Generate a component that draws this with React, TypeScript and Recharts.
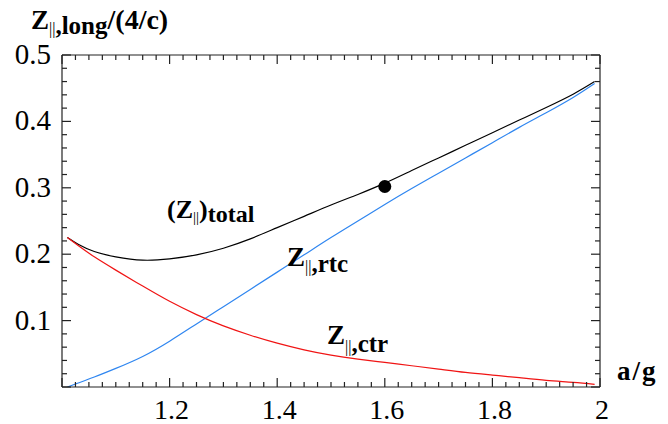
import React from 'react'
import { ComposedChart, Line, Scatter, XAxis, YAxis } from 'recharts'

// a/g
const aOverG = [1.01, 1.03, 1.06, 1.1, 1.15, 1.2, 1.25, 1.3, 1.35, 1.4, 1.45, 1.5, 1.55, 1.6, 1.65, 1.7, 1.75, 1.8, 1.85, 1.9, 1.95, 1.99]
// (Z||)total
const zTotal = [0.225, 0.215, 0.204, 0.196, 0.191, 0.193, 0.199, 0.209, 0.223, 0.24, 0.257, 0.274, 0.29, 0.307, 0.326, 0.345, 0.364, 0.383, 0.402, 0.421, 0.441, 0.46]
// Z||,rtc
const zRtc = [0, 0.006, 0.015, 0.028, 0.046, 0.069, 0.095, 0.121, 0.147, 0.173, 0.199, 0.225, 0.25, 0.275, 0.299, 0.322, 0.345, 0.368, 0.391, 0.413, 0.436, 0.457]
// Z||,ctr
const zCtr = [0.225, 0.213, 0.196, 0.176, 0.152, 0.129, 0.109, 0.092, 0.078, 0.066, 0.056, 0.048, 0.042, 0.037, 0.032, 0.027, 0.022, 0.018, 0.014, 0.01, 0.007, 0.004]

const markedPoint = [{ x: 1.6, y: 0.302 }]

const xMajor = [1.2, 1.4, 1.6, 1.8, 2]
const xLabels = ['1.2', '1.4', '1.6', '1.8', '2']
const yMajor = [0.1, 0.2, 0.3, 0.4, 0.5]
const yLabels = ['0.1', '0.2', '0.3', '0.4', '0.5']

const rows = aOverG.map((x, i) => ({ x, total: zTotal[i], rtc: zRtc[i], ctr: zCtr[i] }))

// minor ticks every 0.025 on x, 0.02 on y
const xTicks = Array.from({ length: 41 }, (_, i) => +(1 + i * 0.025).toFixed(3))
const yTicks = Array.from({ length: 26 }, (_, i) => +(i * 0.02).toFixed(2))

const FONT = "'Liberation Serif', serif"
const FRAME = '#222'

const near = (a: number, b: number) => Math.abs(a - b) < 1e-6
const isMajorX = (v: number) => near(v, 1) || xMajor.some((m) => near(m, v))
const isMajorY = (v: number) => Math.abs(v * 10 - Math.round(v * 10)) < 1e-6

const labelFor = (v: number, majors: number[], labels: string[]) => {
  const i = majors.findIndex((m) => near(m, v))
  return i >= 0 ? labels[i] : ''
}

const BottomTick = (props: any) => {
  const { x, y, payload } = props
  const v = payload.value
  const label = labelFor(v, xMajor, xLabels)
  return (
    <g>
      <line x1={x} x2={x} y1={y} y2={y - (isMajorX(v) ? 9 : 5)} stroke={FRAME} strokeWidth={1.2} />
      {label && (
        <text x={x + 2} y={y + 32} textAnchor="middle" fontSize={28} fontFamily="Liberation Serif">
          {label}
        </text>
      )}
    </g>
  )
}

const TopTick = (props: any) => {
  const { x, y, payload } = props
  return <line x1={x} x2={x} y1={y} y2={y + (isMajorX(payload.value) ? 9 : 5)} stroke={FRAME} strokeWidth={1.2} />
}

const LeftTick = (props: any) => {
  const { x, y, payload } = props
  const v = payload.value
  const label = labelFor(v, yMajor, yLabels)
  return (
    <g>
      <line x1={x} x2={x + (isMajorY(v) ? 9 : 5)} y1={y} y2={y} stroke={FRAME} strokeWidth={1.2} />
      {label && (
        <text x={x - 11} y={y + 9} textAnchor="end" fontSize={29} fontFamily="Liberation Serif">
          {label}
        </text>
      )}
    </g>
  )
}

const RightTick = (props: any) => {
  const { x, y, payload } = props
  return <line x1={x} x2={x - (isMajorY(payload.value) ? 9 : 5)} y1={y} y2={y} stroke={FRAME} strokeWidth={1.2} />
}

const bars = { fontSize: 16, fontWeight: 400 as const }

export default function App() {
  return (
    <div style={{ position: 'absolute', left: 0, top: 0, width: 668, height: 424, background: '#fff', fontFamily: FONT }}>
      <ComposedChart width={668} height={424} data={rows} margin={{ top: 54, right: 67, bottom: 0, left: 0 }}>
        <XAxis
          dataKey="x"
          type="number"
          domain={[1, 2]}
          ticks={xTicks}
          interval={0}
          allowDataOverflow
          height={37}
          tickSize={0}
          tickMargin={0}
          tickLine={false}
          axisLine={{ stroke: FRAME, strokeWidth: 1.2 }}
          tick={<BottomTick />}
        />
        <XAxis
          xAxisId="top"
          orientation="top"
          dataKey="x"
          type="number"
          domain={[1, 2]}
          ticks={xTicks}
          interval={0}
          allowDataOverflow
          height={1}
          tickSize={0}
          tickMargin={0}
          tickLine={false}
          axisLine={{ stroke: FRAME, strokeWidth: 1.2 }}
          tick={<TopTick />}
        />
        <YAxis
          type="number"
          domain={[0, 0.5]}
          ticks={yTicks}
          interval={0}
          allowDataOverflow
          width={62}
          tickSize={0}
          tickMargin={0}
          tickLine={false}
          axisLine={{ stroke: FRAME, strokeWidth: 1.2 }}
          tick={<LeftTick />}
        />
        <YAxis
          yAxisId="right"
          orientation="right"
          type="number"
          domain={[0, 0.5]}
          ticks={yTicks}
          interval={0}
          allowDataOverflow
          width={1}
          tickSize={0}
          tickMargin={0}
          tickLine={false}
          axisLine={{ stroke: FRAME, strokeWidth: 1.2 }}
          tick={<RightTick />}
        />
        <Line type="natural" dataKey="total" stroke="#000" strokeWidth={1.2} dot={false} isAnimationActive={false} />
        <Line type="natural" dataKey="rtc" stroke="#2f86f0" strokeWidth={1.2} dot={false} isAnimationActive={false} />
        <Line type="natural" dataKey="ctr" stroke="#f01414" strokeWidth={1.2} dot={false} isAnimationActive={false} />
        <Scatter
          data={markedPoint}
          dataKey="y"
          isAnimationActive={false}
          shape={(p: any) => <circle cx={p.cx} cy={p.cy} r={6.5} fill="#000" />}
        />
      </ComposedChart>

      {/* titles and curve labels */}
      <div style={{ position: 'absolute', left: 0, top: 0, width: 668, height: 424, pointerEvents: 'none', fontFamily: FONT, fontWeight: 700, lineHeight: 1, whiteSpace: 'nowrap' }}>
        <div style={{ position: 'absolute', left: 31, top: 6, fontSize: 27 }}>
          Z<span style={{ ...bars, verticalAlign: -5 }}>||</span><span style={{ fontSize: 25, verticalAlign: -5 }}>,long</span><span style={{ fontSize: 28 }}>/(4/c)</span>
        </div>
        <div style={{ position: 'absolute', left: 617, top: 358, fontSize: 27, letterSpacing: 2 }}>a/g</div>
        <div style={{ position: 'absolute', left: 167, top: 197, fontSize: 26 }}>
          (Z<span style={{ ...bars, fontSize: 15, verticalAlign: -4 }}>||</span>)<span style={{ fontSize: 24, verticalAlign: -4 }}>total</span>
        </div>
        <div style={{ position: 'absolute', left: 287, top: 244, fontSize: 27 }}>
          Z<span style={{ ...bars, verticalAlign: -6 }}>||</span><span style={{ fontSize: 25, verticalAlign: -6 }}>,rtc</span>
        </div>
        <div style={{ position: 'absolute', left: 327, top: 322, fontSize: 27 }}>
          Z<span style={{ ...bars, verticalAlign: -8 }}>||</span><span style={{ fontSize: 25, verticalAlign: -8 }}>,ctr</span>
        </div>
      </div>
    </div>
  )
}
